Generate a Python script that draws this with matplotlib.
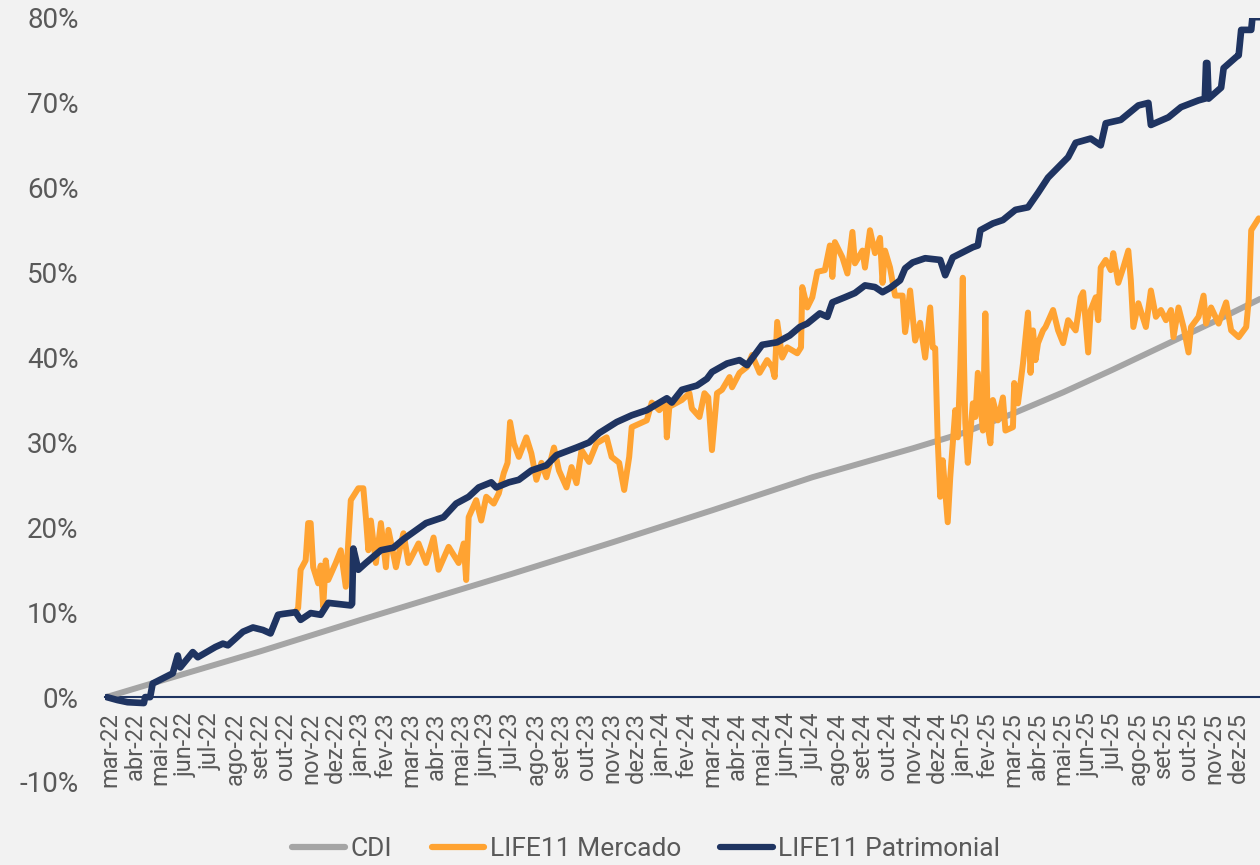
import matplotlib
matplotlib.use("Agg")
import matplotlib.pyplot as plt
from matplotlib.ticker import FuncFormatter

plt.rcParams['font.family'] = ['Roboto', 'DejaVu Sans']

# eixo x: meses desde mar-22 (0 = mar-22)
meses = ['mar', 'abr', 'mai', 'jun', 'jul', 'ago', 'set', 'out', 'nov', 'dez', 'jan', 'fev']
rotulos = []
for i in range(46):
    nome = meses[i % 12]
    ano = 22 + (i + 2) // 12
    rotulos.append(f'{nome}-{ano}')

# CDI acumulado (%)
cdi_m = [-0.15, 2, 6, 10, 12, 16, 20, 24, 28, 32, 34, 36, 38, 40, 42, 44, 45.85]
cdi_v = [0, 1.9, 5.4, 9.1, 10.9, 14.5, 18.2, 22.0, 25.9, 29.3, 31.1, 33.4, 35.9, 38.6, 41.4, 44.2, 46.9]

# LIFE11 Patrimonial (%)
pat_m = [-0.13, 0.3, 0.7, 1.35, 1.4, 1.6, 1.7, 2.5, 2.7, 2.8, 3.3, 3.5, 4.2, 4.5, 4.7, 5.3, 5.7, 6.1,
         6.4, 6.7, 6.9, 7.4, 7.6, 8.0, 8.4, 8.7, 9.6, 9.65, 9.7, 9.9, 10.2, 10.8, 11.3, 11.7, 12.6,
         13.3, 13.8, 14.3, 14.7, 15.2, 15.4, 15.9, 16.3, 16.8, 17.4, 17.8, 18.6, 19.1, 19.5, 20.2,
         20.8, 21.4, 22.2, 22.4, 22.8, 23.4, 23.8, 24.0, 24.6, 25.1, 25.4, 26.0, 26.6, 27.1, 27.5,
         27.8, 28.3, 28.6, 28.8, 29.3, 29.7, 30.1, 30.5, 30.8, 31.1, 31.5, 31.7, 32.0, 32.5, 33.1,
         33.3, 33.6, 34.0, 34.4, 34.6, 34.7, 35.2, 35.6, 36.1, 36.6, 37.0, 37.4, 37.8, 38.2, 38.5,
         39.1, 39.5, 39.7, 40.3, 41.0, 41.4, 41.5, 42.2, 42.7, 43.4, 43.65, 43.7, 43.75, 43.8, 44.3,
         44.4, 44.9, 45.0, 45.1, 45.5, 45.55, 45.85]
pat_v = [0.0, -0.35, -0.6, -0.7, 0.0, 0.0, 1.6, 2.8, 4.9, 3.5, 5.3, 4.7, 5.9, 6.3, 6.1, 7.7, 8.2, 7.9,
         7.5, 9.7, 9.8, 10.0, 9.1, 9.9, 9.7, 11.1, 10.8, 11.0, 17.5, 15.0, 15.8, 17.3, 17.6, 18.6, 20.5,
         21.2, 22.8, 23.6, 24.7, 25.3, 24.7, 25.3, 25.6, 26.7, 27.3, 28.5, 29.4, 30.0, 31.1, 32.4,
         33.2, 33.8, 35.2, 34.7, 36.2, 36.7, 37.5, 38.3, 39.3, 39.7, 39.1, 41.5, 41.8, 42.6, 43.6,
         44.0, 45.2, 44.8, 46.5, 47.1, 47.6, 48.5, 48.3, 47.7, 48.2, 49.1, 50.5, 51.2, 51.7, 51.5,
         49.7, 51.8, 52.4, 53.0, 53.2, 55.0, 55.8, 56.2, 57.4, 57.7, 59.4, 61.2, 62.4, 63.6, 65.3,
         65.8, 65.0, 67.6, 68.0, 69.7, 70.0, 67.4, 68.3, 69.5, 70.3, 70.5, 74.7, 74.7, 70.5, 71.8,
         74.1, 75.4, 75.6, 78.6, 78.6, 80.1, 80.1]

# LIFE11 Mercado (%)
mer_m = [7.4, 7.5, 7.6, 7.8, 7.9, 8.0, 8.1, 8.3, 8.4, 8.5, 8.6, 8.7, 9.0, 9.2, 9.4, 9.5, 9.6, 9.9,
         10.1, 10.2, 10.3, 10.4, 10.6, 10.8, 11.0, 11.1, 11.4, 11.6, 11.7, 11.9, 12.3, 12.6, 12.9,
         13.1, 13.5, 13.9, 14.1, 14.2, 14.3, 14.6, 14.8, 15.0, 15.3, 15.5, 15.7, 15.85, 15.95, 16.1,
         16.3, 16.6, 16.8, 17.0, 17.2, 17.4, 17.7, 17.9, 18.2, 18.4, 18.6, 18.8, 19.1, 19.4, 19.8,
         20.0, 20.3, 20.5, 20.7, 20.8, 21.4, 21.6, 21.9, 22.15, 22.2, 22.3, 22.8, 23.1, 23.2, 23.5,
         23.7, 23.85, 24.0, 24.2, 24.4, 24.7, 24.8, 25.1, 25.4, 25.6, 25.9, 26.2, 26.4, 26.5, 26.6,
         26.8, 27.0, 27.4, 27.55, 27.6, 27.8, 28.0, 28.2, 28.5, 28.7, 28.8, 28.9, 29.2, 29.4, 29.6,
         29.7, 30.0, 30.1, 30.3, 30.5, 30.7, 30.8, 30.9, 31.1, 31.3, 31.6, 31.7, 31.75, 31.9, 32.1,
         32.3, 32.5, 32.7, 32.8, 32.9, 33.0, 33.1, 33.2, 33.4, 33.5, 33.7, 33.8, 33.9, 34.0, 34.05,
         34.1, 34.2, 34.4, 34.5, 34.6, 34.8, 34.9, 35.0, 35.1, 35.2, 35.4, 35.6, 35.7, 36.0, 36.05,
         36.2, 36.4, 36.6, 36.7, 36.8, 36.9, 37.0, 37.2, 37.3, 37.6, 37.8, 38.0, 38.2, 38.5, 38.7,
         38.8, 39.0, 39.1, 39.3, 39.4, 39.5, 39.7, 39.9, 40.0, 40.2, 40.4, 40.6, 40.7, 40.8, 41.0,
         41.3, 41.5, 41.7, 41.9, 42.1, 42.3, 42.4, 42.6, 42.8, 43.0, 43.1, 43.4, 43.6, 43.7, 43.9,
         44.2, 44.5, 44.7, 45.0, 45.3, 45.4, 45.5, 45.8]
mer_v = [10.0, 10.5, 15.0, 16.1, 20.5, 20.5, 15.3, 13.4, 15.5, 10.6, 16.1, 13.8, 15.8, 17.3, 13.0, 18.3, 23.2, 24.6,
         24.6, 21.2, 17.3, 20.8, 15.8, 20.5, 15.3, 19.7, 15.3, 18.1, 19.3, 15.8, 18.1, 15.8, 18.8,
         15.0, 17.7, 15.8, 18.1, 13.8, 21.2, 23.2, 20.8, 23.6, 22.8, 24.0, 26.4, 27.6, 32.4, 29.9,
         28.3, 30.6, 28.7, 25.6, 27.6, 25.9, 29.4, 26.7, 24.7, 27.1, 25.2, 29.1, 27.7, 29.9, 30.6,
         28.3, 27.6, 24.4, 28.3, 31.8, 32.6, 34.7, 33.8, 34.6, 30.6, 34.2, 35.0, 35.8, 34.0, 33.0,
         35.8, 35.3, 29.1, 35.8, 36.2, 37.7, 36.5, 38.2, 38.9, 40.3, 38.2, 39.7, 38.9, 37.7, 44.2,
         40.0, 41.2, 40.5, 41.2, 48.3, 45.9, 47.1, 50.1, 50.3, 53.2, 49.5, 53.6, 51.8, 49.9, 54.8,
         51.1, 52.6, 50.6, 55.0, 52.3, 54.1, 48.8, 52.6, 50.6, 47.3, 47.3, 43.0, 44.0, 47.9, 42.0,
         44.1, 40.0, 45.9, 41.2, 41.1, 30.3, 23.6, 27.9, 20.6, 25.9, 33.8, 30.6, 38.9, 49.4, 39.3,
         32.3, 27.6, 34.6, 33.0, 38.2, 31.4, 45.2, 31.8, 29.9, 35.0, 32.6, 35.3, 31.4, 31.8, 37.0,
         34.6, 39.3, 45.3, 38.2, 43.2, 39.7, 41.7, 43.2, 43.6, 45.6, 43.2, 41.7, 44.4, 43.2, 47.1,
         47.7, 40.6, 45.6, 47.1, 44.4, 50.6, 51.5, 50.3, 52.3, 48.8, 50.6, 52.6, 49.1, 43.6, 46.4,
         43.6, 47.9, 44.8, 45.6, 44.4, 45.6, 42.4, 45.9, 43.6, 40.6, 43.6, 44.8, 47.3, 44.0, 45.9,
         44.0, 46.5, 43.2, 42.4, 43.6, 46.8, 55.0, 56.4]

cinza = '#A5A5A5'
laranja = '#FFA332'
azul = '#1F3461'
texto = '#595959'
fundo = '#F2F2F2'

fig = plt.figure(figsize=(12.6, 8.65), dpi=100, facecolor=fundo)
ax = fig.add_axes([105 / 1260, 83 / 865, 1155 / 1260, 764 / 865])
ax.set_facecolor(fundo)

# linha do zero (antes de configurar os ticks, pois set_position reinicia os ticks)
for s in ['top', 'right', 'left']:
    ax.spines[s].set_visible(False)
ax.spines['bottom'].set_position(('data', 0))
ax.spines['bottom'].set_color(azul)
ax.spines['bottom'].set_linewidth(1.5)
ax.spines['bottom'].set_zorder(0.5)

ax.plot(cdi_m, cdi_v, color=cinza, lw=4.3, solid_capstyle='round', solid_joinstyle='round', label='CDI')
ax.plot(mer_m, mer_v, color=laranja, lw=4.3, solid_capstyle='round', solid_joinstyle='round',
        label='LIFE11 Mercado')
ax.plot(pat_m, pat_v, color=azul, lw=4.8, solid_capstyle='round', solid_joinstyle='round',
        label='LIFE11 Patrimonial')

ax.set_xlim(-0.2, 45.85)
ax.set_ylim(-10, 80)
ax.set_yticks(range(-10, 81, 10))
ax.yaxis.set_major_formatter(FuncFormatter(lambda v, p: f'{v:.0f}%'))
ax.set_xticks(range(len(rotulos)))
ax.set_xticklabels(rotulos, rotation=90, fontsize=17, color=texto)

ax.tick_params(axis='both', length=0, colors=texto)
ax.tick_params(axis='y', labelsize=20, pad=19)
ax.tick_params(axis='x', pad=11)

leg = fig.legend(loc='center', bbox_to_anchor=(0.513, 0.018), ncol=3, frameon=False,
                 fontsize=19, handlelength=2.0, handletextpad=0.2, columnspacing=1.5)
for t in leg.get_texts():
    t.set_color(texto)
for h in leg.get_lines():
    h.set_linewidth(4.5)
    h.set_solid_capstyle('round')

fig.savefig('out.png', dpi=100, facecolor=fundo)
